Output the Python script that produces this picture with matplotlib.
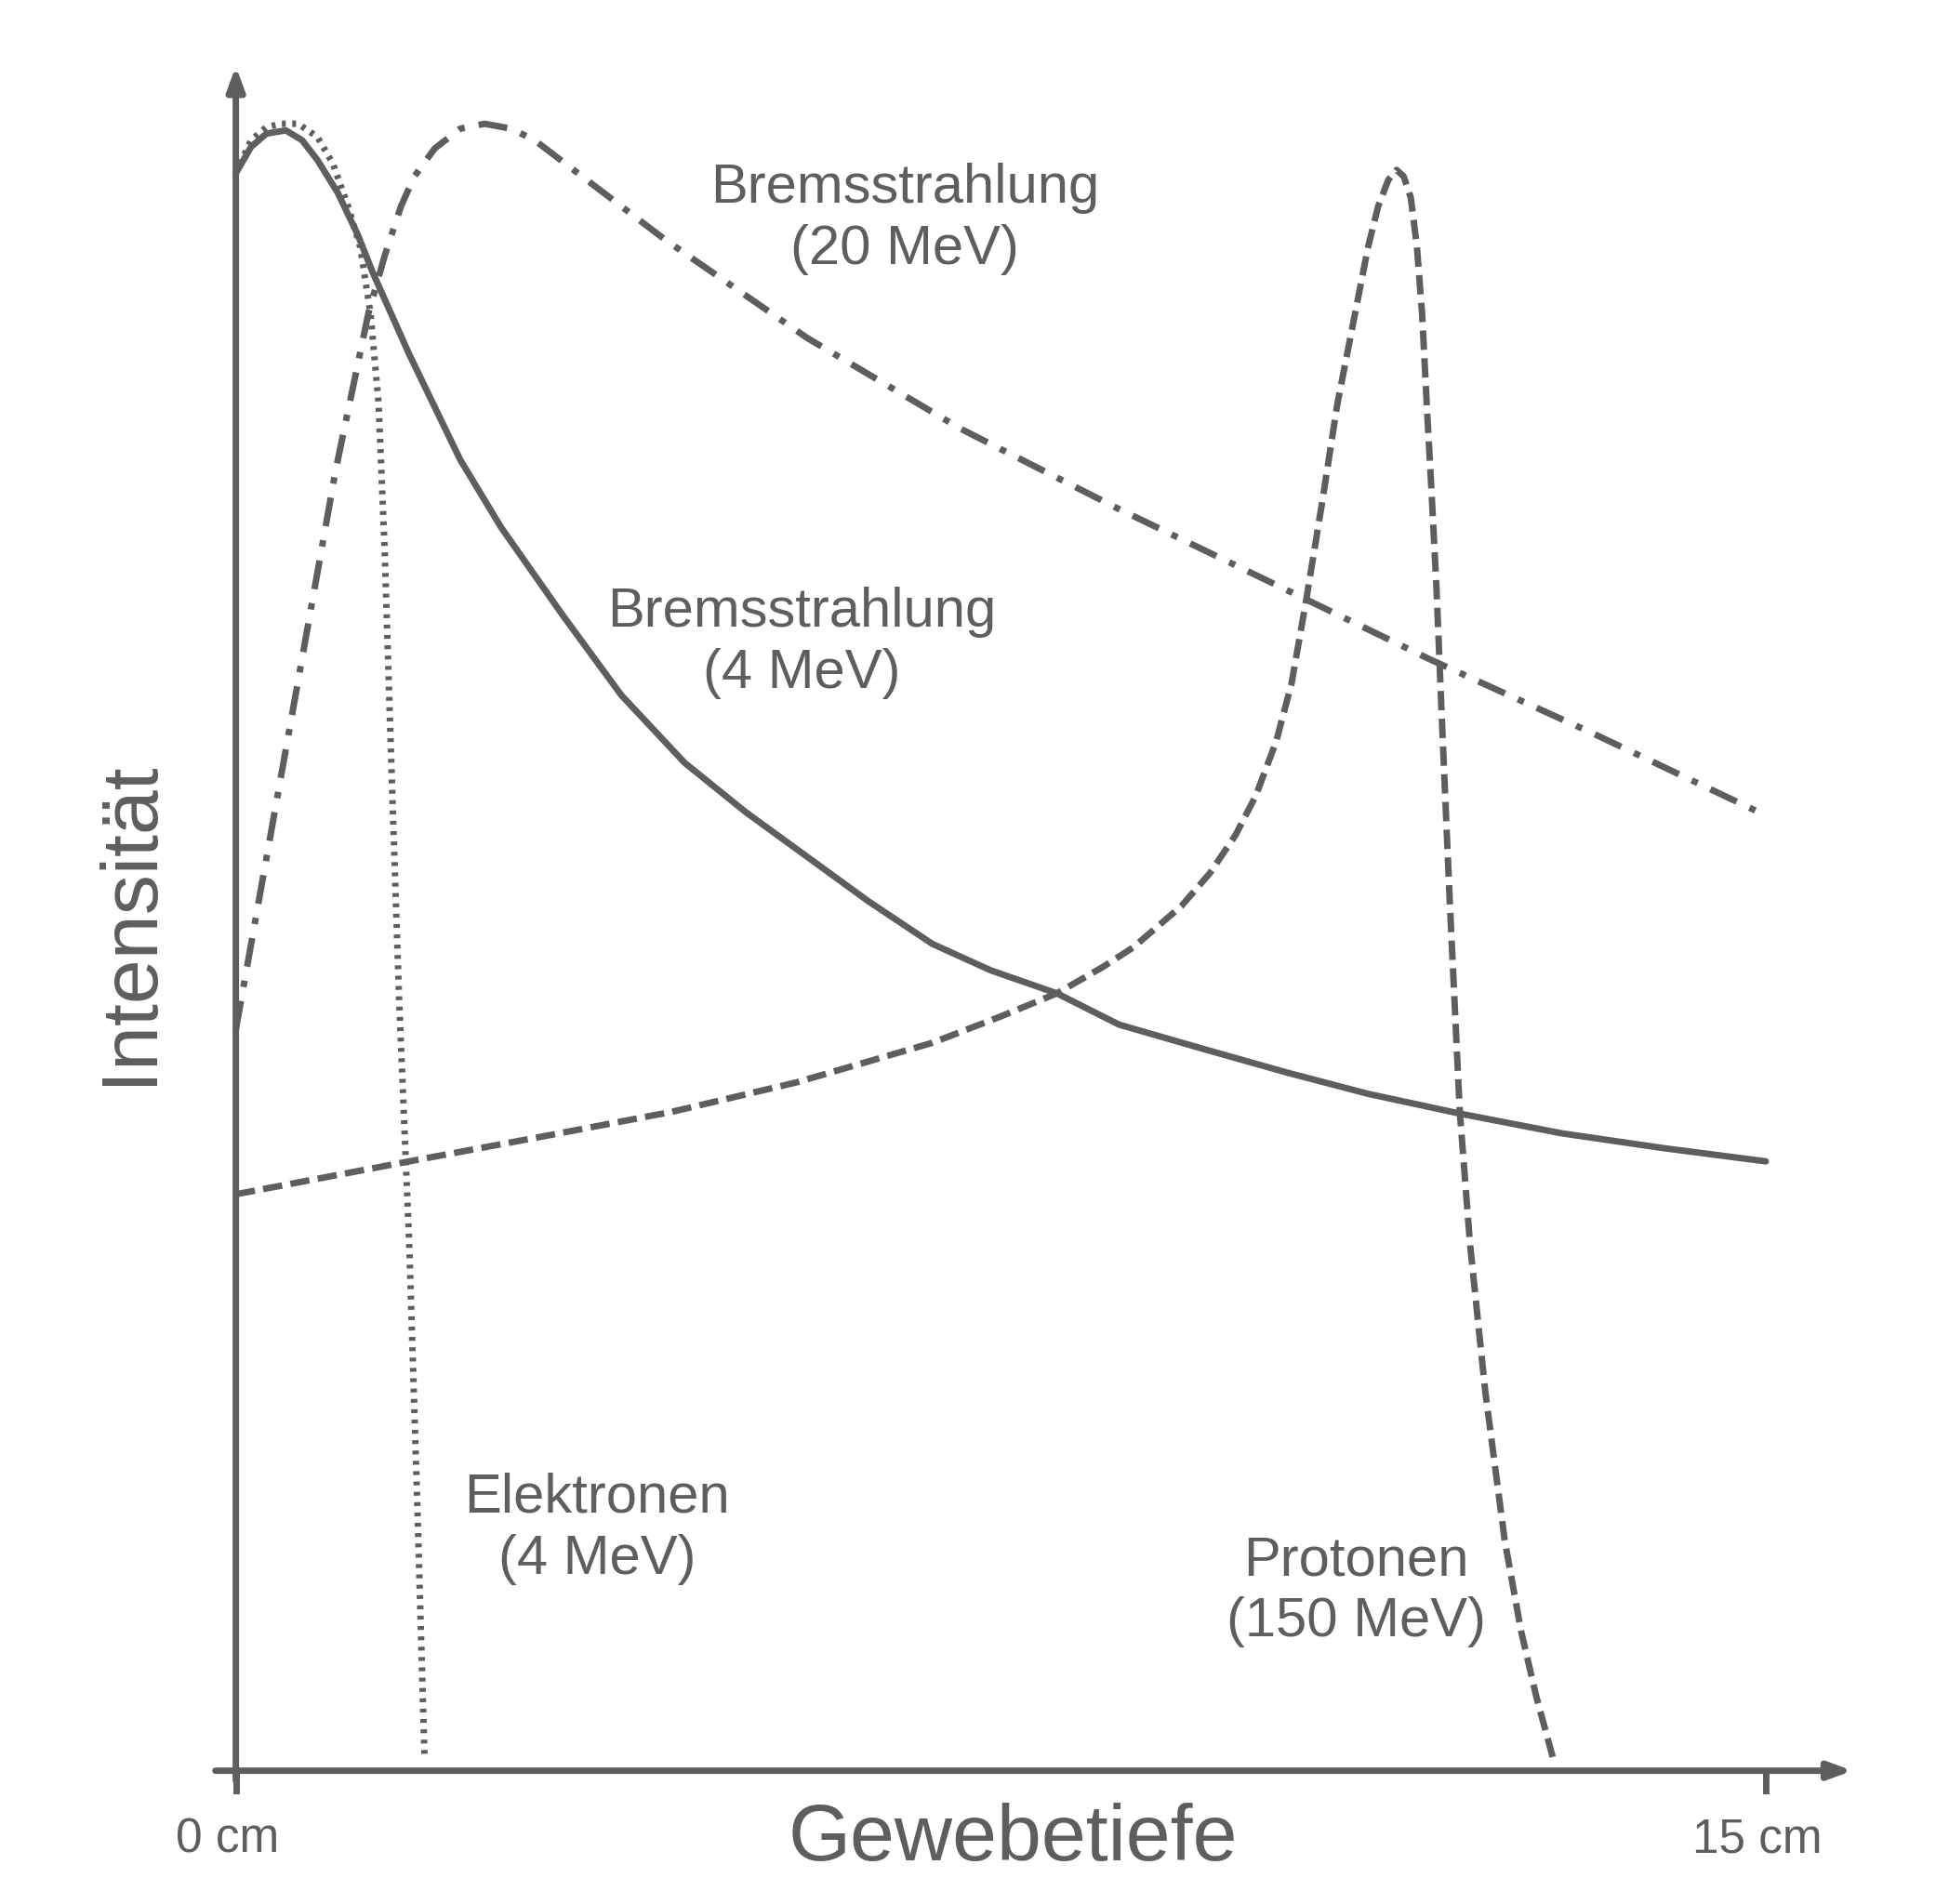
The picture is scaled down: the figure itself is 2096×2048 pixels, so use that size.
import matplotlib
matplotlib.use("Agg")
import matplotlib.pyplot as plt
import numpy as np

plt.rcParams['font.family'] = ['Liberation Sans', 'DejaVu Sans']
C = '#5e5e5e'

brems4_x = [0, 0.15, 0.3, 0.49, 0.65, 0.8, 1.0, 1.2, 1.34, 1.7, 2.2, 2.6, 3.2, 3.78, 4.4, 5.0, 5.6, 6.2, 6.83, 7.4, 8.05, 8.66, 9.5, 10.3, 11.1, 12.0, 13.0, 14.0, 15.0]
brems4_y = [97, 98.6, 99.4, 99.6, 99.0, 97.8, 95.8, 93.2, 91, 86, 79.6, 75.5, 70.2, 65.3, 61.2, 58.2, 55.5, 52.8, 50.2, 48.6, 47.2, 45.3, 43.8, 42.4, 41.1, 39.9, 38.7, 37.8, 37]
elek_x = [0, 0.15, 0.3, 0.45, 0.61, 0.8, 0.95, 1.1, 1.22, 1.32, 1.4, 1.46, 1.52, 1.6, 1.7, 1.78, 1.85]
elek_y = [97, 99, 99.8, 100, 100, 99.2, 97.6, 95, 92.5, 88.5, 83, 74, 62, 47, 32, 16, 0.8]
brems20_x = [0, 0.49, 0.98, 1.3, 1.46, 1.62, 1.75, 1.95, 2.2, 2.44, 2.7, 2.93, 4.2, 5.6, 7.1, 8.66, 10.2, 11.7, 13.3, 15.0]
brems20_y = [45, 62, 79, 88.5, 92, 95, 96.8, 98.5, 99.7, 100, 99.7, 99, 93, 87, 81.5, 76.6, 72, 67.5, 63, 58]
prot_x = [0, 1.7, 3.0, 4.27, 5.5, 6.83, 7.5, 8.05, 8.5, 8.8, 9.27, 9.55, 9.8, 10.0, 10.2, 10.35, 10.5, 10.65, 10.8, 10.98, 11.1, 11.2, 11.3, 11.38, 11.45, 11.52, 11.58, 11.63, 11.68, 11.72, 11.77, 11.83, 11.9, 12.0, 12.1, 12.25, 12.44, 12.6, 12.75, 12.93]
prot_y = [35, 37, 38.5, 40, 41.8, 44.2, 45.8, 47.2, 48.8, 50, 52.5, 54.5, 56.8, 59.2, 62.5, 66, 71.3, 77, 83, 88.7, 92.5, 95, 96.6, 97.2, 96.8, 95.5, 92.5, 88.5, 82.5, 78, 72, 63, 53, 40, 32, 23, 14, 8.5, 4.5, 0.4]

fig = plt.figure(figsize=(20.96, 20.48), dpi=100)
ax = fig.add_axes([0.121, 0.070, 0.785, 0.865])
ax.set_xlim(0, 15); ax.set_ylim(0, 100)
ax.axis('off')
lw = 5
ax.plot(brems4_x, brems4_y, color=C, lw=lw, solid_capstyle='round', solid_joinstyle='round', clip_on=False)
ax.plot(elek_x, elek_y, color=C, lw=lw, ls=(0, (0.6, 1.0)), clip_on=False)
ax.plot(brems20_x, brems20_y, color=C, lw=lw, ls=(0, (4.5, 2.2, 1, 2.2)), clip_on=False)
ax.plot(prot_x, prot_y, color=C, lw=lw, ls=(0, (3, 1.3)), clip_on=False)

ax.annotate('', xy=(15.85, 0), xytext=(-0.2, 0), annotation_clip=False,
            arrowprops=dict(arrowstyle='-|>,head_length=1.5,head_width=0.55', color=C, lw=lw, shrinkA=0, shrinkB=0))
ax.annotate('', xy=(0, 103.5), xytext=(0, -0.6), annotation_clip=False,
            arrowprops=dict(arrowstyle='-|>,head_length=1.5,head_width=0.55', color=C, lw=lw, shrinkA=0, shrinkB=0))
for xv in (0, 15):
    ax.plot([xv, xv], [0, -1.2], color=C, lw=lw, clip_on=False)

fs = 43
ax.text(6.56, 94.2, 'Bremsstrahlung\n(20 MeV)', ha='center', va='center', fontsize=fs, color=C, linespacing=1.25)
ax.text(5.55, 68.5, 'Bremsstrahlung\n(4 MeV)', ha='center', va='center', fontsize=fs, color=C, linespacing=1.25)
ax.text(3.54, 14.7, 'Elektronen\n(4 MeV)', ha='center', va='center', fontsize=fs, color=C, linespacing=1.25)
ax.text(10.98, 10.9, 'Protonen\n(150 MeV)', ha='center', va='center', fontsize=fs, color=C, linespacing=1.25)
ax.text(7.62, -4.2, 'Gewebetiefe', ha='center', va='center', fontsize=62, color=C)
ax.text(-0.08, -4.2, '0 cm', ha='center', va='center', fontsize=37, color=C)
ax.text(14.92, -4.2, '15 cm', ha='center', va='center', fontsize=37, color=C)
ax.text(-1.04, 51.5, 'Intensität', ha='center', va='center', fontsize=62, color=C, rotation=90)

fig.savefig('out.png', dpi=100, facecolor='white')
